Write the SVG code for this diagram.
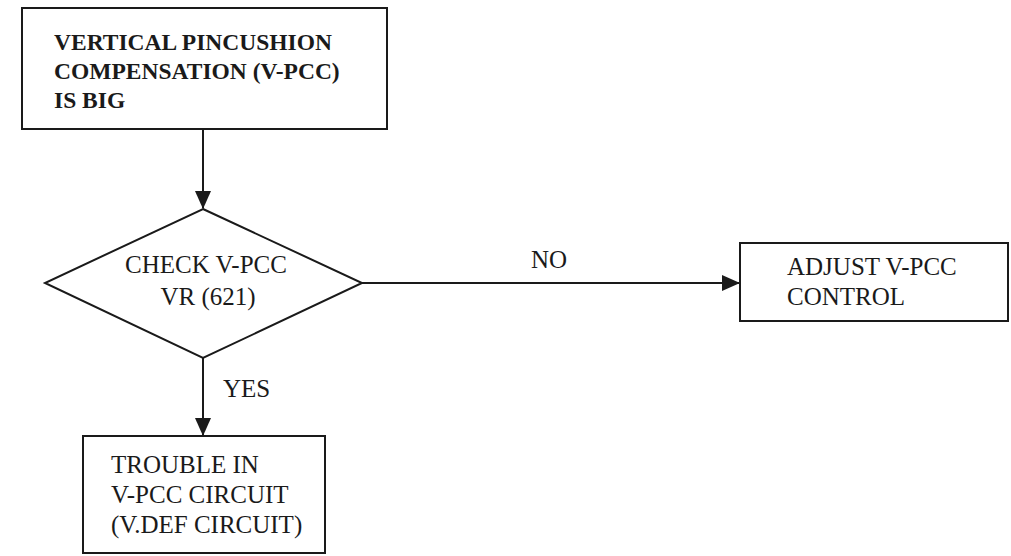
<svg xmlns="http://www.w3.org/2000/svg" width="1011" height="556" viewBox="0 0 1011 556">
<style>
.box{fill:#fff;stroke:#1a1a1a;stroke-width:2}
.t{font-family:"Liberation Serif","Times New Roman",serif;font-size:25px;fill:#1a1a1a}
.b{font-weight:bold;font-size:23.5px}
.c{fill:none;stroke:#1a1a1a;stroke-width:2}
</style>
<defs>
<marker id="ah" markerWidth="18" markerHeight="16" refX="17" refY="8" orient="auto" markerUnits="userSpaceOnUse" viewBox="0 0 18 16">
<path d="M0,0 L18,8 L0,16 z" fill="#1a1a1a"/>
</marker>
</defs>
<rect width="1011" height="556" fill="#fff"/>
<g id="connectors">
<line class="c" x1="203" y1="129" x2="203" y2="208" marker-end="url(#ah)"/>
<line class="c" x1="362" y1="283" x2="739" y2="283" marker-end="url(#ah)"/>
<line class="c" x1="203" y1="358" x2="203" y2="435" marker-end="url(#ah)"/>
<text class="t" x="531" y="268">NO</text>
<text class="t" x="223" y="397">YES</text>
</g>
<g id="start">
<rect class="box" x="22" y="8" width="365" height="121"/>
<text class="t b" x="54" y="50">VERTICAL PINCUSHION</text>
<text class="t b" x="54" y="79">COMPENSATION (V-PCC)</text>
<text class="t b" x="54" y="108">IS BIG</text>
</g>
<g id="check">
<polygon class="box" points="203,209 362,283 203,358 45,283"/>
<text class="t" x="206" y="273" text-anchor="middle">CHECK V-PCC</text>
<text class="t" x="208" y="305" text-anchor="middle">VR (621)</text>
</g>
<g id="adjust">
<rect class="box" x="740" y="243" width="268" height="78"/>
<text class="t" x="787" y="275">ADJUST V-PCC</text>
<text class="t" x="787" y="305">CONTROL</text>
</g>
<g id="trouble">
<rect class="box" x="83" y="436" width="242" height="117"/>
<text class="t" x="111" y="473">TROUBLE IN</text>
<text class="t" x="111" y="503">V-PCC CIRCUIT</text>
<text class="t" x="111" y="533">(V.DEF CIRCUIT)</text>
</g>
</svg>
